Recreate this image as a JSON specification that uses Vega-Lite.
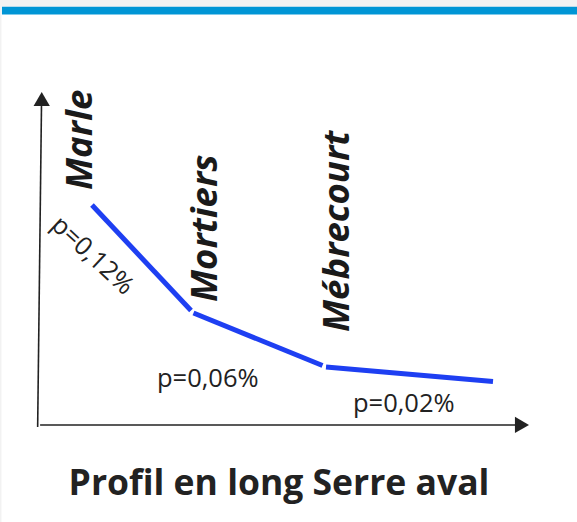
{
  "$schema": "https://vega.github.io/schema/vega-lite/v6.json",
  "width": 577,
  "height": 522,
  "padding": 0,
  "autosize": {"type": "none"},
  "background": "#f2f2f2",
  "config": {"view": {"stroke": null}},
  "datasets": {
    "panel": [{"x0": -7.7, "x1": 110, "y0": -29, "y1": 125.0}],
    "band": [{"x0": -7.6, "x1": 110, "y0": 122.7, "y1": 125.0}],
    "axes": [
      {"x": -0.3, "y": -0.6, "x2": 0.5, "y2": 97.4},
      {"x": 0.2, "y": 0, "x2": 98.7, "y2": 0}
    ],
    "arrows": [
      {"x": 0.53, "y": 97.4, "direction": "up"},
      {"x": 98.75, "y": 0, "direction": "right"}
    ],
    "profile": [
      {"from": "Marle", "to": "Mortiers", "x": 10.81, "y": 65.73, "x2": 31.06, "y2": 34.2},
      {"from": "Mortiers", "to": "Mébrecourt", "x": 31.57, "y": 33.46, "x2": 57.95, "y2": 17.77},
      {"from": "Mébrecourt", "to": "aval", "x": 58.67, "y": 17.32, "x2": 92.82, "y2": 12.98}
    ],
    "towns": [
      {"name": "Marle", "x": 10.81, "y": 70.2},
      {"name": "Mortiers", "x": 36.38, "y": 36.74},
      {"name": "Mébrecourt", "x": 63.37, "y": 27.78}
    ],
    "slopes": [
      {"label": "p=0,06%", "x": 24.11, "y": 11.34},
      {"label": "p=0,02%", "x": 64.19, "y": 3.9}
    ],
    "slopeDiag": [{"label": "p=0,12%", "x": 10.9, "y": 50.6}],
    "caption": [{"text": "Profil en long Serre aval", "x": 49.06, "y": -20.94}]
  },
  "encoding": {
    "x": {"type": "quantitative", "scale": {"domain": [-8, 110], "nice": false, "zero": false}, "axis": null},
    "y": {"type": "quantitative", "scale": {"domain": [-29, 127], "nice": false, "zero": false}, "axis": null}
  },
  "layer": [
    {
      "data": {"name": "panel"},
      "mark": {"type": "rect", "fill": "#ffffff"},
      "encoding": {
        "x": {"field": "x0", "type": "quantitative"},
        "x2": {"field": "x1"},
        "y": {"field": "y0", "type": "quantitative"},
        "y2": {"field": "y1"}
      }
    },
    {
      "data": {"name": "band"},
      "mark": {"type": "rect", "fill": "#0095d5"},
      "encoding": {
        "x": {"field": "x0", "type": "quantitative"},
        "x2": {"field": "x1"},
        "y": {"field": "y0", "type": "quantitative"},
        "y2": {"field": "y1"}
      }
    },
    {
      "data": {"name": "axes"},
      "mark": {"type": "rule", "stroke": "#222222", "strokeWidth": 1.6},
      "encoding": {
        "x": {"field": "x", "type": "quantitative"},
        "y": {"field": "y", "type": "quantitative"},
        "x2": {"field": "x2"},
        "y2": {"field": "y2"}
      }
    },
    {
      "data": {"name": "arrows"},
      "mark": {"type": "point", "filled": true, "size": 265, "color": "#222222", "opacity": 1},
      "encoding": {
        "x": {"field": "x", "type": "quantitative"},
        "y": {"field": "y", "type": "quantitative"},
        "shape": {"field": "direction", "type": "nominal", "scale": {"domain": ["up", "right"], "range": ["triangle-up", "triangle-right"]}, "legend": null}
      }
    },
    {
      "data": {"name": "profile"},
      "mark": {"type": "rule", "stroke": "#1e3ff2", "strokeWidth": 5, "strokeCap": "butt"},
      "encoding": {
        "x": {"field": "x", "type": "quantitative"},
        "y": {"field": "y", "type": "quantitative"},
        "x2": {"field": "x2"},
        "y2": {"field": "y2"}
      }
    },
    {
      "data": {"name": "towns"},
      "mark": {"type": "text", "angle": 270, "align": "left", "baseline": "alphabetic", "font": "Open Sans", "fontSize": 36.5, "fontWeight": "bold", "fontStyle": "italic", "color": "#1a1a1a"},
      "encoding": {
        "x": {"field": "x", "type": "quantitative"},
        "y": {"field": "y", "type": "quantitative"},
        "text": {"field": "name"}
      }
    },
    {
      "data": {"name": "slopes"},
      "mark": {"type": "text", "align": "left", "baseline": "alphabetic", "font": "Open Sans", "fontSize": 25.5, "color": "#222222"},
      "encoding": {
        "x": {"field": "x", "type": "quantitative"},
        "y": {"field": "y", "type": "quantitative"},
        "text": {"field": "label"}
      }
    },
    {
      "data": {"name": "slopeDiag"},
      "mark": {"type": "text", "align": "center", "baseline": "middle", "angle": 43, "font": "Open Sans", "fontSize": 25.5, "color": "#222222"},
      "encoding": {
        "x": {"field": "x", "type": "quantitative"},
        "y": {"field": "y", "type": "quantitative"},
        "text": {"field": "label"}
      }
    },
    {
      "data": {"name": "caption"},
      "mark": {"type": "text", "align": "center", "baseline": "alphabetic", "font": "Open Sans", "fontSize": 35.5, "fontWeight": "bold", "color": "#222222"},
      "encoding": {
        "x": {"field": "x", "type": "quantitative"},
        "y": {"field": "y", "type": "quantitative"},
        "text": {"field": "text"}
      }
    }
  ]
}
